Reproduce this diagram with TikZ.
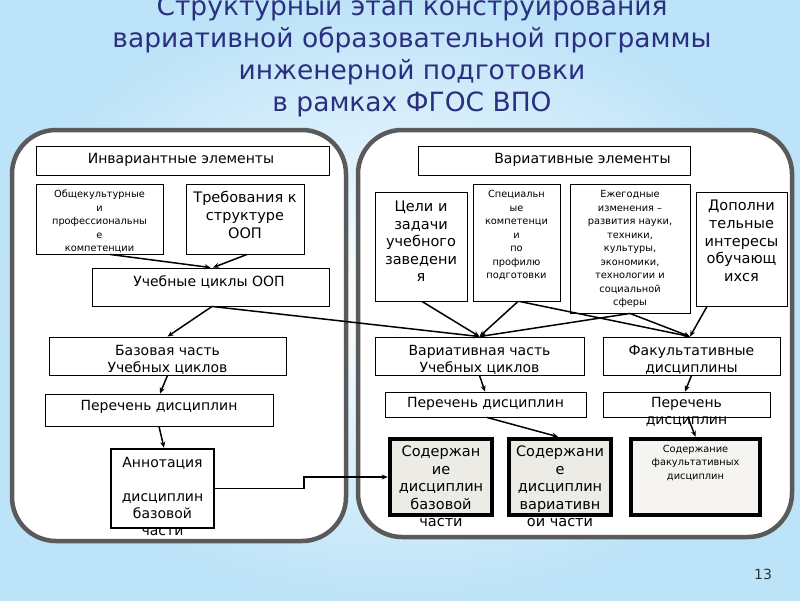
\documentclass[tikz,border=0pt]{standalone}
\usepackage{fontspec}
\setmainfont{DejaVu Sans}
\newfontfamily\titlefont{DejaVu Sans}
\usetikzlibrary{arrows.meta}
\definecolor{navy}{HTML}{2B2F80}
\definecolor{bgblue}{HTML}{BDE3F8}
\definecolor{frame}{HTML}{5A5A5A}
\definecolor{cfill}{HTML}{ECEBE5}
\definecolor{cfillb}{HTML}{F5F4F0}
\tikzset{
  box/.style={draw=black, line width=0.9pt, fill=white, inner sep=0pt},
  annbox/.style={box, line width=2.4pt},
  sodbox/.style={box, line width=4.5pt, fill=cfill},
  txt/.style={align=center, inner sep=0pt, font=\fontsize{14}{16.8}\selectfont},
  small/.style={align=center, inner sep=0pt, font=\fontsize{9.8}{13.5}\selectfont},
  big/.style={align=center, inner sep=0pt, font=\fontsize{14.5}{17.6}\selectfont},
  panel/.style={draw=frame, line width=4.5pt, fill=white, rounded corners=44pt},
  ttl/.style={anchor=base, inner sep=0pt, text=navy, font=\titlefont\fontsize{26.5}{32}\selectfont},
  conn/.style={line width=1.5pt, -{Stealth[length=6pt,width=5pt]}},
}
\begin{document}
\begin{tikzpicture}[x=1pt,y=-1pt]
\useasboundingbox (0,0) rectangle (800,600);
\shade[inner color=white, outer color=bgblue] (0,0) rectangle (800,600);
% title
\node[ttl] (t1) at (412,15) {Структурный этап конструирования};
\node[ttl] (t2) at (412,47) {вариативной образовательной программы};
\node[ttl] (t3) at (412,79) {инженерной подготовки};
\node[ttl] (t4) at (412,111) {в рамках ФГОС ВПО};
% panels
\draw[panel] (12,130) rectangle (346,541);
\draw[panel] (358,130) rectangle (792,537);
% left boxes
\node[box, minimum width=293, minimum height=29] (inv) at (182.5,160.5) {};
\node[txt] (invt) at (181,160) {Инвариантные элементы};
\node[box, minimum width=127, minimum height=70] (obsh) at (99.5,219) {};
\node[small] (obsht) at (99.5,221.5) {Общекультурные\\и\\профессиональны\\е\\компетенции};
\node[box, minimum width=118, minimum height=70] (treb) at (245,219) {};
\node[big] (trebt) at (245,215) {Требования к\\структуре\\ООП};
\node[box, minimum width=237, minimum height=38] (ucikl) at (210.5,287) {};
\node[txt] (uciklt) at (209,282) {Учебные циклы ООП};
\node[box, minimum width=237, minimum height=38] (baz) at (167.5,356) {};
\node[txt] (bazt) at (167.5,360) {Базовая часть\\Учебных циклов};
\node[box, minimum width=228, minimum height=32] (perL) at (159,410) {};
\node[txt] (perLt) at (159,407) {Перечень дисциплин};
\node[annbox, minimum width=103, minimum height=79] (ann) at (162.5,488.5) {};
\node[txt] (annt) at (162.5,496.5) {Аннотация\\ \\дисциплин\\базовой\\части};
% right boxes
\node[box, minimum width=272, minimum height=29] (var) at (554,160.5) {};
\node[txt] (vart) at (582.5,160) {Вариативные элементы};
\node[box, minimum width=92, minimum height=109] (celi) at (421,246.5) {};
\node[big] (celit) at (421,241.5) {Цели и\\задачи\\учебного\\заведени\\я};
\node[box, minimum width=87, minimum height=117] (spec) at (516.5,242.5) {};
\node[small] (spect) at (516.5,235.5) {Специальн\\ые\\компетенци\\и\\по\\профилю\\подготовки};
\node[box, minimum width=120, minimum height=129] (ezh) at (630,248.5) {};
\node[small] (ezht) at (630,249) {Ежегодные\\изменения --\\развития науки,\\техники,\\культуры,\\экономики,\\технологии и\\социальной\\сферы};
\node[box, minimum width=91, minimum height=114] (dop) at (741.5,249) {};
\node[big] (dopt) at (741.5,241) {Дополни\\тельные\\интересы\\обучающ\\ихся};
\node[box, minimum width=209, minimum height=38] (varc) at (479.5,356) {};
\node[txt] (varct) at (479.5,360) {Вариативная часть\\Учебных циклов};
\node[box, minimum width=177, minimum height=38] (fak) at (691.5,356) {};
\node[txt] (fakt) at (691.5,360) {Факультативные\\дисциплины};
\node[box, minimum width=201, minimum height=25] (perR1) at (485.5,404.5) {};
\node[txt] (perR1t) at (485.5,404) {Перечень дисциплин};
\node[box, minimum width=167, minimum height=25] (perR2) at (686.5,404.5) {};
\node[txt] (perR2t) at (686.5,412) {Перечень\\дисциплин};
\node[sodbox, minimum width=102, minimum height=76] (sod1) at (441,477) {};
\node[big] (sod1t) at (441,486.5) {Содержан\\ие\\дисциплин\\базовой\\части};
\node[sodbox, minimum width=102, minimum height=76] (sod2) at (560,477) {};
\node[big] (sod2t) at (560,486.5) {Содержани\\е\\дисциплин\\вариативн\\ой части};
\node[sodbox, fill=cfillb, minimum width=129, minimum height=76] (sod3) at (695.5,477) {};
\node[small] (sod3t) at (695.5,463) {Содержание\\факультативных\\дисциплин};
% connectors
\draw[conn] ([xshift=10.5pt]obsh.south) -- (ucikl.north);
\draw[conn] ([xshift=2pt]treb.south) -- ([xshift=2.5pt]ucikl.north);
\draw[conn] ([xshift=1.5pt]ucikl.south) -- (baz.north);
\draw[conn] ([xshift=1.5pt]ucikl.south) -- (varc.north);
\draw[conn] (baz.south) -- ([xshift=1pt]perL.north);
\draw[conn] (perL.south) -- ([xshift=1.5pt]ann.north);
\draw[conn] (ann.east) -- ++(89,0) |- (sod1.west);
\draw[conn] ([xshift=1pt]celi.south) -- (varc.north);
\draw[conn] ([xshift=1.5pt]spec.south) -- (varc.north);
\draw[conn] ([xshift=3pt]spec.south) -- ([xshift=-1.5pt]fak.north);
\draw[conn] (ezh.south) -- (varc.north);
\draw[conn] (ezh.south) -- ([xshift=-1.5pt]fak.north);
\draw[conn] ([xshift=-34.5pt]dop.south) -- ([xshift=-1.5pt]fak.north);
\draw[conn] (varc.south) -- ([xshift=5.5pt]varc.south |- perR1.north);
\draw[conn] (fak.south) -- ([xshift=-1.5pt]perR2.north);
\draw[conn] ([xshift=1.5pt]perR1.south) -- ([xshift=-2pt]sod2.north);
\draw[conn] ([xshift=1.5pt]perR2.south) -- (sod3.north);
% page number
\node[anchor=base, inner sep=0pt, text=black!80, font=\fontsize{14}{16}\selectfont] (pg) at (763,579) {13};
\end{tikzpicture}
\end{document}
